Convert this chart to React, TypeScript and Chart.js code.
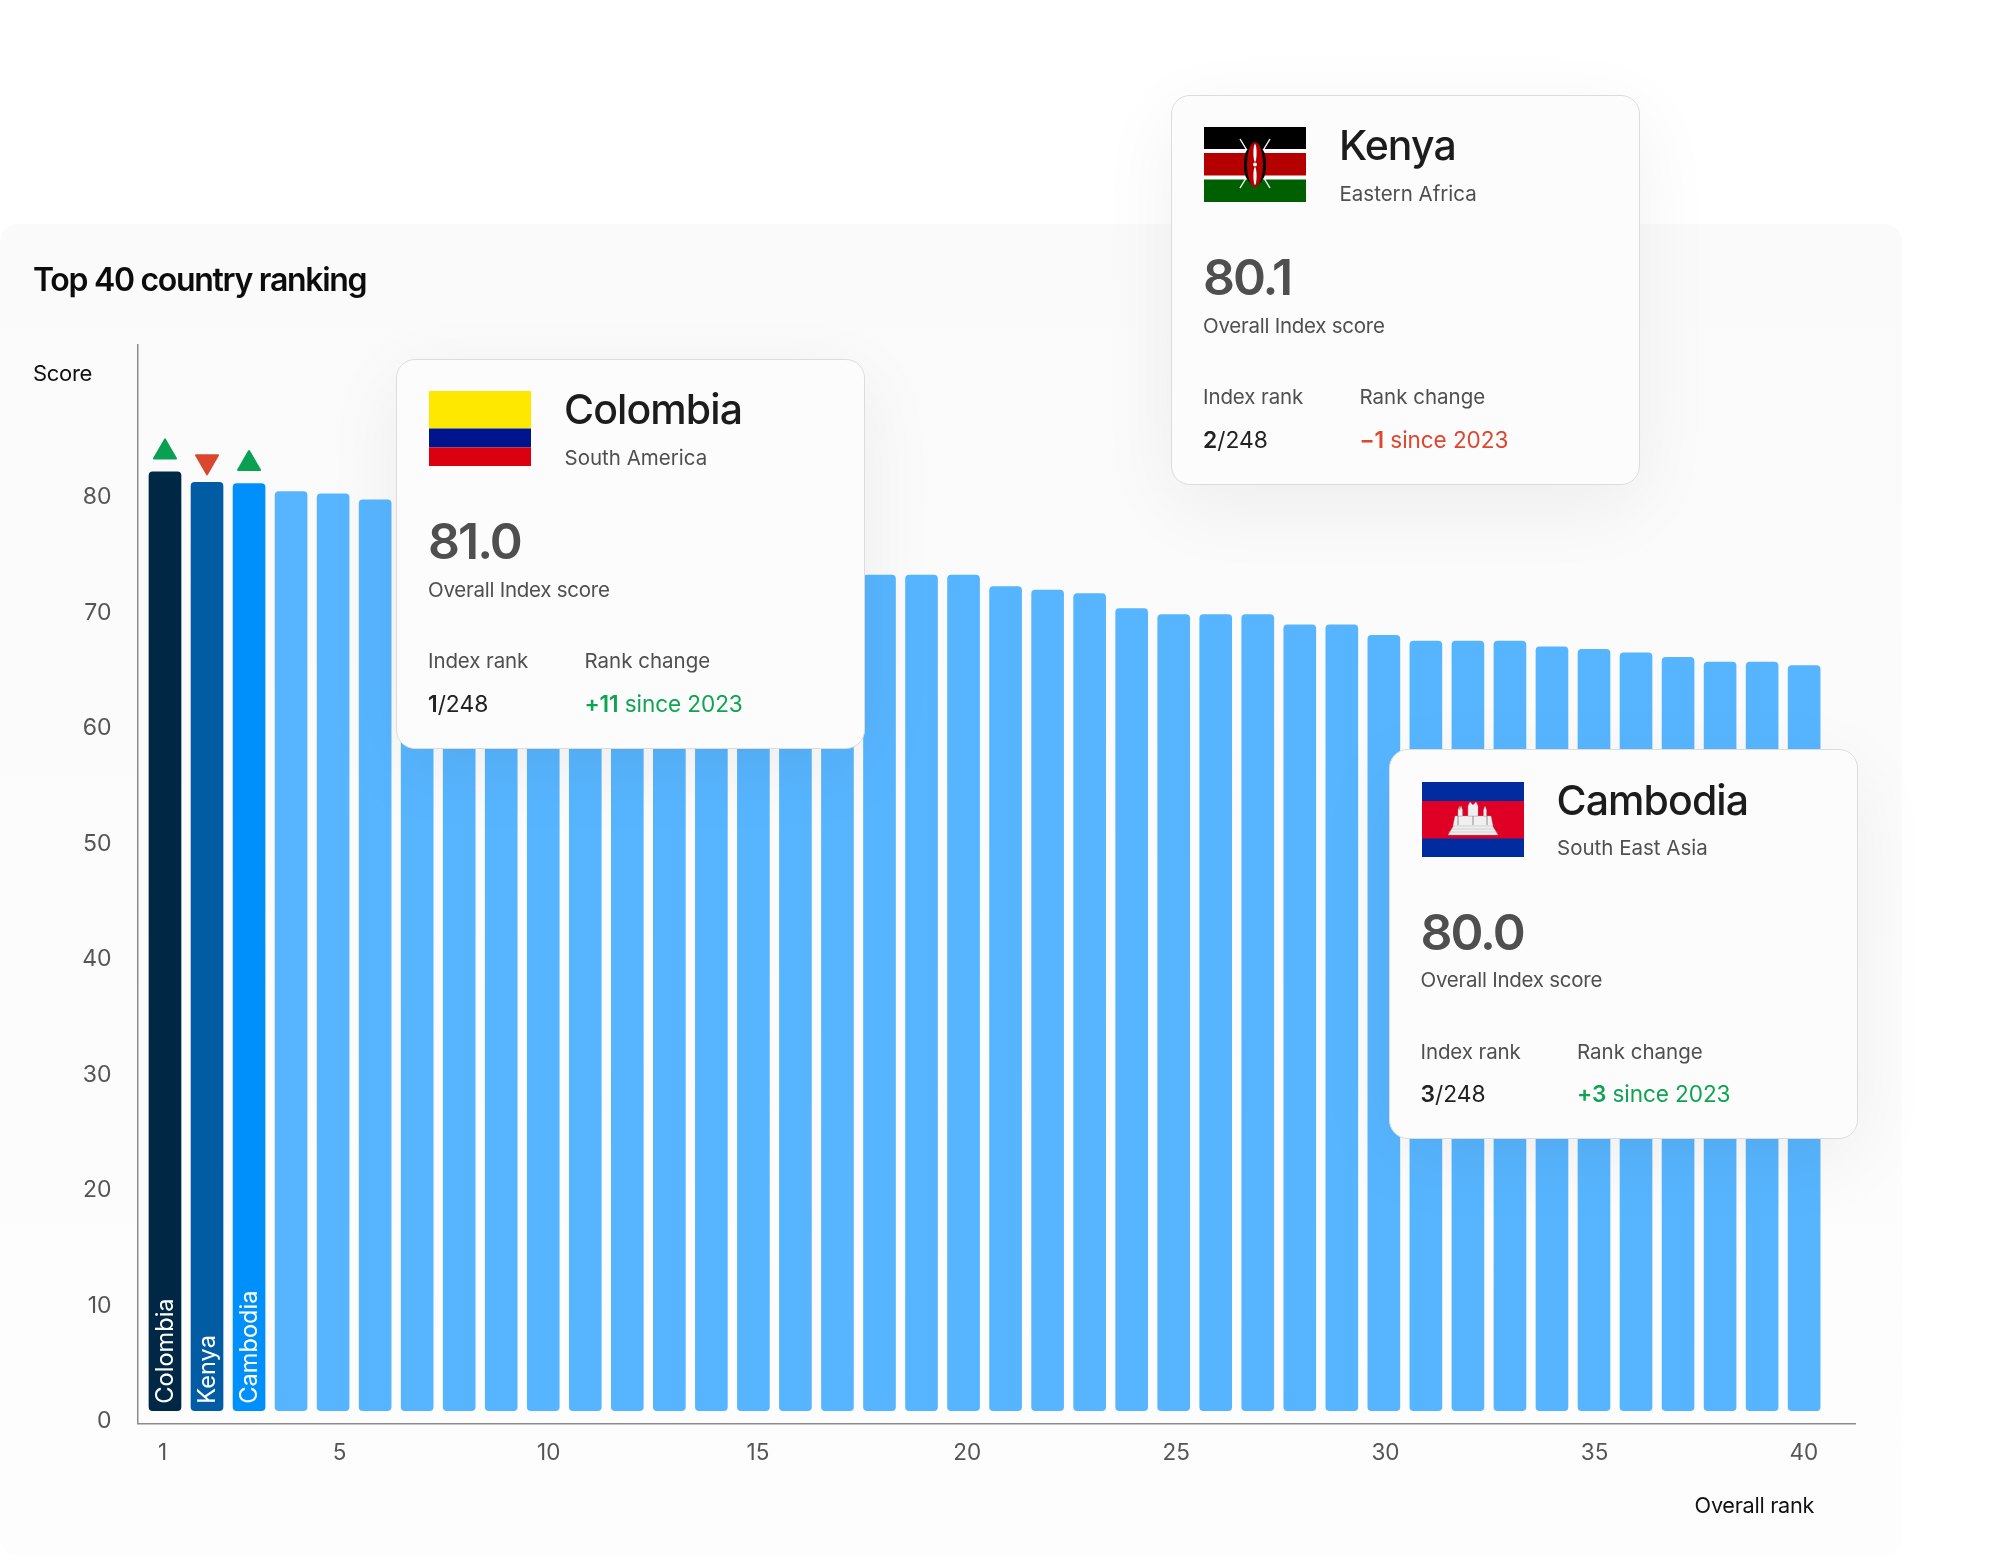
import React, { useEffect, useRef } from "react";
import { Chart, registerables } from "chart.js";

Chart.register(...registerables);

const ranks = [1,2,3,4,5,6,7,8,9,10,11,12,13,14,15,16,17,18,19,20,21,22,23,24,25,26,27,28,29,30,31,32,33,34,35,36,37,38,39,40];
const scores = [81.0,80.1,80.0,79.3,79.1,78.6,77.9,77.0,76.4,75.9,75.3,74.8,74.2,73.8,73.3,72.9,72.5,72.1,72.1,72.1,71.1,70.8,70.5,69.2,68.7,68.7,68.7,67.8,67.8,66.9,66.4,66.4,66.4,65.9,65.7,65.4,65.0,64.6,64.6,64.3];
const highlightNames = ["Colombia", "Kenya", "Cambodia"];
const highlightColors = ["#002744", "#015ca3", "#0090fb"];
const trend = [1, -1, 1];
const yTickValues = [0,10,20,30,40,50,60,70,80];
const xTickValues = [0.77,5,10,15,20,25,30,35,40];
const xTickLabels = ["1","5","10","15","20","25","30","35","40"];

const BAR = "#57b5ff";
const FONT = "Inter, 'Liberation Sans', sans-serif";

const barColors = ranks.map((_, i) => highlightColors[i] ?? BAR);

const markers = {
  id: "markers",
  afterDatasetsDraw(chart: any) {
    const { ctx, scales } = chart;
    const sx = scales.x, sy = scales.y;
    highlightNames.forEach((name, i) => {
      const cx = sx.getPixelForValue(ranks[i]);
      const top = sy.getPixelForValue(scores[i]);
      const base = sy.getPixelForValue(0);
      ctx.save();
      ctx.translate(cx, base - 7);
      ctx.rotate(-Math.PI / 2);
      ctx.fillStyle = "#fff";
      ctx.font = `400 23.6px ${FONT}`;
      ctx.textAlign = "left";
      ctx.textBaseline = "middle";
      ctx.fillText(name, 0, 0.5);
      ctx.restore();

      const up = trend[i] > 0;
      ctx.save();
      ctx.fillStyle = ctx.strokeStyle = up ? "#0aa051" : "#d9472f";
      ctx.lineWidth = 2;
      ctx.lineJoin = "round";
      const h = 19, w = 11;
      const yTip = up ? top - 32.5 : top - 8;
      const yBase = up ? yTip + h : yTip - h;
      ctx.beginPath();
      ctx.moveTo(cx, yTip);
      ctx.lineTo(cx - w, yBase);
      ctx.lineTo(cx + w, yBase);
      ctx.closePath();
      ctx.fill();
      ctx.stroke();
      ctx.restore();
    });
  },
};

const cards = [
  { name: "Colombia", region: "South America", score: "81.0", rank: "1", change: "+11", color: "#0fa453", left: 396, top: 358.5, flag: "co" },
  { name: "Kenya", region: "Eastern Africa", score: "80.1", rank: "2", change: "−1", color: "#e0452e", left: 1171, top: 94.5, flag: "ke" },
  { name: "Cambodia", region: "South East Asia", score: "80.0", rank: "3", change: "+3", color: "#0fa453", left: 1388.5, top: 749, flag: "kh" },
];

function Flag({ kind }: { kind: string }) {
  const style: React.CSSProperties = { position: "absolute", left: 32, top: 31.5, width: 102, height: 75, display: "block" };
  if (kind === "co") {
    return (
      <svg style={style} viewBox="0 0 102 75">
        <rect width="102" height="37.5" fill="#ffe800" />
        <rect y="37.5" width="102" height="19" fill="#00148c" />
        <rect y="56.5" width="102" height="18.5" fill="#da0010" />
      </svg>
    );
  }
  if (kind === "ke") {
    return (
      <svg style={style} viewBox="0 0 102 75">
        <rect width="102" height="75" fill="#fff" />
        <rect width="102" height="22" fill="#000" />
        <rect y="26" width="102" height="22.5" fill="#b50000" />
        <rect y="52.5" width="102" height="22.5" fill="#005f00" />
        <g stroke="#fff" strokeWidth="1.4">
          <line x1="36" y1="12" x2="66" y2="61" />
          <line x1="66" y1="12" x2="36" y2="61" />
        </g>
        <path d="M51 15 C41 22 40 28 40 37.5 C40 47 41 53 51 60 C61 53 62 47 62 37.5 C62 28 61 22 51 15Z" fill="#000" />
        <ellipse cx="51" cy="37.5" rx="8" ry="22.5" fill="#b50000" />
        <g fill="#fff">
          <ellipse cx="51" cy="26" rx="1.6" ry="9" />
          <ellipse cx="51" cy="49" rx="1.6" ry="9" />
          <circle cx="51" cy="37.5" r="2" />
        </g>
      </svg>
    );
  }
  return (
    <svg style={style} viewBox="0 0 102 75">
      <rect width="102" height="75" fill="#002c9f" />
      <rect y="19" width="102" height="37.5" fill="#e00025" />
      <g fill="#f0f0f0" stroke="#9a9a9a" strokeWidth="0.4">
        <path d="M26 53 L32 43 L70 43 L76 53Z" />
        <path d="M33 34 L69 34 L71 44 L31 44Z" />
        <path d="M36 34 L36 28 L37.5 24 L37.5 28 L39 24 L40.5 28 L40.5 34Z" />
        <path d="M46 34 L46 24 L48 20 L51 23 L54 20 L56 24 L56 34Z" />
        <path d="M61.5 34 L61.5 28 L63 24 L64.5 28 L64.5 34Z" />
        <path d="M26 50 H76 M29 47 H73" fill="none" />
      </g>
      <path d="M36 34 V43 M51 34 V43 M65 34 V43" stroke="#777" strokeWidth="0.8" fill="none" />
    </svg>
  );
}

function T({ x, base, size, weight = 400, color = "#4f4f4f", ls = 0, children, right }: any) {
  const style: React.CSSProperties = {
    position: "absolute",
    top: base - 0.864 * size,
    fontFamily: FONT,
    fontSize: size,
    lineHeight: `${size}px`,
    fontWeight: weight,
    color,
    letterSpacing: ls,
    whiteSpace: "nowrap",
  };
  if (right !== undefined) style.right = right; else style.left = x;
  return <div style={style}>{children}</div>;
}

function Card({ c }: { c: (typeof cards)[number] }) {
  return (
    <div
      style={{
        position: "absolute",
        left: c.left,
        top: c.top,
        width: 469,
        height: 390,
        boxSizing: "border-box",
        background: "#fcfcfc",
        border: "1.5px solid #dcdcdc",
        borderRadius: 19,
        boxShadow: "0 20px 80px rgba(0,0,0,0.06)",
      }}
    >
      <Flag kind={c.flag} />
      <T x={167} base={65} size={41} weight={500} color="#1c1c1c" ls={-0.9}>{c.name}</T>
      <T x={167.5} base={106} size={20.5} ls={0}>{c.region}</T>
      <T x={31} base={200} size={50} weight={600} ls={-2}>{c.score}</T>
      <T x={31} base={238} size={20.5} ls={-0.25}>Overall Index score</T>
      <T x={31} base={309.5} size={20.5} ls={-0.1}>Index rank</T>
      <T x={187.5} base={309.5} size={20.5} ls={0}>Rank change</T>
      <T x={31} base={353} size={22.8} color="#222"><b style={{ fontWeight: 600 }}>{c.rank}</b>/248</T>
      <T x={187.5} base={353} size={22.6} color={c.color} ls={-0.1}><b style={{ fontWeight: 600 }}>{c.change}</b> since 2023</T>
    </div>
  );
}

export default function App() {
  const ref = useRef<HTMLCanvasElement>(null);
  useEffect(() => {
    document.body.style.margin = "0";
    const chart = new Chart(ref.current!, {
      type: "bar",
      data: {
        datasets: [
          {
            data: ranks.map((r, i) => ({ x: r, y: scores[i] })),
            backgroundColor: barColors,
            barThickness: 32,
            borderRadius: 4,
            borderSkipped: false,
          },
        ],
      },
      options: {
        animation: false,
        responsive: false,
        events: [],
        layout: { padding: { left: 0, right: 145, top: 345, bottom: 0 } },
        plugins: { legend: { display: false }, tooltip: { enabled: false }, title: { display: false } },
        scales: {
          x: { type: "linear", display: false, offset: false, min: 0.346, max: 41.21, grid: { display: false } },
          y: { type: "linear", display: false, min: -1.104, max: 91.95, grid: { display: false } },
          xTicks: {
            type: "linear",
            position: "bottom",
            axis: "x",
            offset: false,
            min: 0.168,
            max: 41.225,
            grid: { display: false },
            border: { display: true, color: "#8c8c8c", width: 1.5 },
            afterBuildTicks: (s: any) => { s.ticks = xTickValues.map((value) => ({ value })); },
            afterFit: (s: any) => { s.height = 131.5; },
            ticks: {
              autoSkip: false,
              maxRotation: 0,
              padding: 8,
              color: "#555",
              font: { family: FONT, size: 22.5 },
              callback: (_: any, i: number) => xTickLabels[i],
            },
          },
          yTicks: {
            type: "linear",
            position: "left",
            axis: "y",
            min: -0.2,
            max: 93.17,
            grid: { display: false },
            border: { display: true, color: "#8c8c8c", width: 1.5 },
            afterBuildTicks: (s: any) => { s.ticks = yTickValues.map((value) => ({ value })); },
            afterFit: (s: any) => { s.width = 137.5; },
            ticks: {
              autoSkip: false,
              padding: 18,
              color: "#555",
              font: { family: FONT, size: 23 },
            },
          },
        },
      } as any,
      plugins: [markers],
    });
    return () => chart.destroy();
  }, []);

  return (
    <div style={{ position: "absolute", left: 0, top: 0, width: 2000, height: 1555, overflow: "hidden", background: "#fff" }}>
      <div style={{ position: "absolute", left: 0, top: 224, width: 1902, height: 1331, background: "linear-gradient(#fafafa, #fdfdfd)", borderRadius: 18 }} />
      <canvas ref={ref} width={2000} height={1555} style={{ position: "absolute", left: 0, top: 0, width: 2000, height: 1555 }} />
      <T x={33} base={292} size={32} weight={600} color="#0c0c0c" ls={-1.3}>Top 40 country ranking</T>
      <T x={33} base={381} size={22} color="#111" ls={-0.3}>Score</T>
      <T right={2000 - 1814} base={1514} size={21.7} color="#111" ls={-0.3}>Overall rank</T>
      {cards.map((c) => <Card key={c.name} c={c} />)}
    </div>
  );
}
